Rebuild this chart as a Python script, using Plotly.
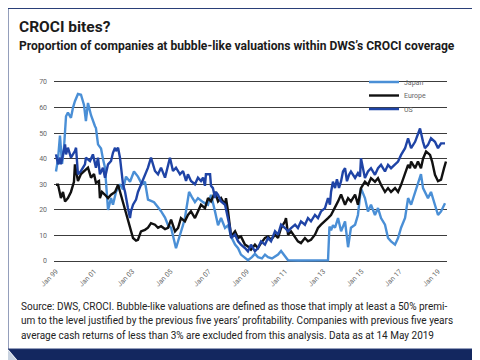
import plotly.graph_objects as go
import pandas as pd

# ---------------- data (months since Jan 1999, % of companies) ----------------
japan_month = [0.0, 1.3, 2.5, 3.8, 5.0, 6.3, 7.5, 9.4, 10.7, 11.9, 13.8, 15.7, 17.6, 18.8, 20.1, 22.0, 24.5, 25.1,
               26.4, 28.3, 29.5, 30.8, 31.4, 32.7, 34.6, 35.8, 37.7, 40.2, 42.1, 44.0, 46.5, 49.0, 51.5, 54.0, 55.9,
               57.8, 59.7, 61.6, 64.1, 66.0, 68.5, 70.4, 72.3, 74.1, 75.4, 77.3, 78.5, 79.8, 81.0, 82.3, 83.6, 85.4,
               87.3, 89.2, 92.4, 95.5, 97.4, 99.9, 101.8, 103.7, 106.2, 108.1, 110.0, 112.5, 114.4, 116.2, 118.7,
               120.6, 123.1, 125.0, 126.9, 129.4, 131.3, 133.2, 135.7, 137.6, 139.5, 141.4, 143.9, 145.8, 152.0,
               158.3, 164.6, 169.6, 170.9, 171.8, 172.8, 174.0, 175.3, 177.2, 179.1, 181.6, 183.5, 185.3, 187.9,
               189.7, 191.6, 194.1, 196.0, 197.9, 200.4, 202.3, 204.2, 206.7, 208.6, 210.5, 213.0, 214.9, 216.8,
               219.3, 221.2, 223.1, 225.6, 227.4, 229.3, 230.6, 233.7, 235.6, 238.1, 240.0, 241.9, 244.4]
japan_value = [35, 40, 49, 38, 44, 56.6, 58, 56, 60, 62.5, 65.3, 65, 61, 54.7, 61.8, 57, 52.7, 52,
               45.6, 44, 40, 36.5, 31, 20, 24.6, 22, 27, 30, 28, 33, 31, 35, 33, 30, 31,
               24, 23.5, 23, 21, 19.5, 17, 14, 13, 8, 5, 9, 11, 14, 16.8, 22, 27, 25,
               23, 24.6, 23, 22, 25.9, 19.4, 14, 16.8, 12.9, 14, 9.6, 6.4, 5, 2.5, 1.2,
               0.3, 1.5, 2.8, 1.5, 1, 2.5, 1.5, 1, 1.9, 2.5, 3.9, 2, 0.3, 0.2,
               0.2, 0.2, 0.2, 0.3, 13.5, 12, 14, 13, 16.8, 11.6, 15.5, 5.4, 13, 14.2,
               18, 28.5, 24.6, 19.4, 22, 18, 20.7, 16.8, 14.2, 9, 7.7, 6.4, 9, 13,
               16.8, 24.6, 22, 27.2, 31, 34, 28.5, 24.6, 27, 22, 18, 19.4, 22.6]

europe_month = [0.0, 1.3, 3.1, 4.4, 5.7, 7.5, 9.4, 11.3, 11.9, 13.8, 15.7, 17.6, 20.1, 22.0, 23.9, 25.1, 27.0,
                27.6, 28.9, 30.8, 32.7, 34.6, 37.1, 39.0, 40.8, 43.4, 45.2, 46.5, 48.4, 50.3, 51.5, 53.4, 55.9,
                57.8, 59.7, 62.2, 64.1, 66.0, 68.5, 70.4, 72.3, 74.8, 76.7, 78.5, 81.0, 82.9, 84.8, 87.3, 89.2,
                91.1, 93.6, 95.5, 97.4, 99.9, 101.8, 103.7, 106.2, 106.8, 108.1, 109.3, 110.0, 112.5, 114.4,
                116.2, 118.7, 120.6, 122.5, 125.0, 126.9, 128.8, 131.3, 133.2, 135.1, 137.6, 139.5, 141.4, 143.9,
                144.5, 145.8, 147.7, 150.2, 152.0, 153.9, 156.4, 158.3, 160.2, 162.7, 164.6, 166.5, 169.0, 170.9,
                172.8, 175.3, 177.2, 179.1, 181.6, 183.5, 185.3, 187.9, 189.7, 191.6, 194.1, 196.0, 197.9, 200.4,
                202.3, 204.2, 206.7, 208.6, 210.5, 213.0, 214.9, 216.8, 219.3, 221.2, 222.4, 223.1, 225.6, 227.4,
                229.3, 230.6, 232.5, 235.0, 236.3, 238.1, 240.0, 241.9, 243.8, 245.0]
europe_value = [29.8, 29.8, 24.6, 27, 23.3, 24.6, 27, 31, 37.8, 31.3, 34, 35, 36.5, 32.6, 34, 30.6, 31.3,
                24.6, 27, 25.9, 24.6, 25.9, 27, 29.8, 25.9, 19.4, 15.5, 13, 9, 8, 8.3, 11.6, 12.2,
                13, 14.8, 14.2, 13, 13.6, 12.5, 13, 16.2, 11.6, 12.9, 16.8, 15.5, 18, 19.4, 16.8, 19.4,
                22, 20.7, 24.6, 23.3, 27, 23.3, 24.6, 22, 24.6, 19.4, 13, 9.6, 11.6, 9,
                9.6, 6.4, 5.7, 4.4, 6.4, 5.1, 7, 9, 9.6, 8.3, 10.3, 9, 12.9, 15.5,
                16.8, 10.3, 11.6, 9.6, 7.7, 7, 9, 7.7, 8.3, 10.3, 12.9, 14.2, 15.5, 16.8,
                18, 20.7, 23.3, 26, 22, 24.6, 23.3, 26, 22, 28.5, 31, 29.8, 32.4, 31,
                32.4, 29.8, 27, 28.5, 27, 28.5, 27, 29.8, 34, 37.6, 36.3, 38.9, 36.3, 38.9,
                36.3, 40, 42.8, 41.5, 38.9, 33.7, 31.2, 31.8, 36.3, 38.9]

us_month = [0.0, 1.3, 2.5, 3.1, 4.4, 5.7, 6.3, 7.5, 9.4, 11.9, 12.6, 13.8, 15.7, 18.2, 18.8, 21.4, 23.2, 25.1,
            26.4, 27.6, 29.5, 30.8, 32.7, 34.6, 35.8, 37.1, 37.7, 39.0, 40.2, 40.8, 42.1, 43.4, 44.0, 45.2, 46.5,
            47.1, 48.4, 50.3, 51.5, 53.4, 55.9, 57.8, 59.7, 60.9, 62.2, 64.1, 66.0, 68.5, 70.4, 71.6, 73.5, 75.4,
            77.9, 79.8, 81.7, 82.9, 84.8, 87.3, 89.2, 91.1, 92.4, 93.6, 94.2, 96.8, 97.4, 98.6, 99.9, 100.5,
            101.8, 103.7, 106.2, 108.1, 109.3, 110.0, 112.5, 114.4, 116.2, 118.7, 120.6, 122.5, 125.0, 126.9,
            128.8, 131.3, 133.2, 135.1, 137.6, 139.5, 141.4, 143.9, 145.8, 147.7, 150.2, 152.0, 153.9, 156.4,
            158.3, 160.2, 162.7, 164.6, 166.5, 169.0, 170.9, 172.1, 172.8, 174.0, 175.3, 176.5, 177.8, 179.1,
            180.3, 181.6, 182.8, 184.1, 185.3, 187.9, 189.7, 191.0, 191.6, 194.1, 196.0, 197.9, 200.4, 202.3,
            204.2, 206.7, 208.6, 210.5, 213.0, 214.9, 216.8, 219.3, 221.2, 223.1, 225.6, 227.4, 228.7, 230.6,
            231.8, 233.7, 235.6, 238.1, 240.0, 241.9, 244.4]
us_value = [41.7, 37.8, 40.4, 37.8, 41.7, 45.6, 41.7, 44.3, 40.4, 43, 44.3, 33.9, 35.2, 37.8, 40.4, 39.1, 41.7, 36.5,
            40.4, 33.9, 36.5, 32.6, 37.8, 39.1, 42.3, 44.3, 43, 44.3, 40.4, 36.5, 30, 27, 24.6, 20.7, 16.8,
            19.4, 22, 24, 27, 30, 33.9, 36.5, 40.4, 37.8, 35.2, 33.9, 36.5, 32.6, 37.8, 40.4, 35.2, 36.5,
            33.9, 35.2, 31.3, 33.9, 31.3, 30, 32.6, 31.3, 32.6, 29.4, 33.9, 33.9, 29.4, 28.5, 24.6, 27,
            25.9, 23.3, 22, 16.8, 13, 9, 10.3, 7.7, 6.4, 5.1, 3.8, 6.4, 3.8, 5.1,
            7.7, 6.4, 9, 7.7, 11.6, 10.3, 14.2, 12.9, 11.6, 12.9, 14.2, 12.9, 15.5, 14.2,
            16.8, 15.5, 18, 16.8, 19.4, 20.7, 24.6, 22, 27, 31, 28.5, 32, 28.6, 31.2,
            35, 36.3, 31.2, 33.7, 35, 32.5, 34.4, 33, 40.2, 32.5, 35, 36.3, 33.7, 36.3,
            37.6, 35, 37.6, 36.3, 37.6, 38.9, 41.5, 44.1, 48, 44.1, 46.6, 49.2, 51.8, 46.6,
            44.1, 45.4, 48, 46.6, 44.1, 46, 46]

y_ticks = [0, 10, 20, 30, 40, 50, 60, 70]
x_tick_dates = ["1999-01-01", "2001-01-01", "2003-01-01", "2005-01-01", "2007-01-01", "2009-01-01",
                "2011-01-01", "2013-01-01", "2015-01-01", "2017-01-01", "2019-01-01"]
x_tick_labels = ["Jan 99", "Jan 01", "Jan 03", "Jan 05", "Jan 07", "Jan 09",
                 "Jan 11", "Jan 13", "Jan 15", "Jan 17", "Jan 19"]

title_text = "CROCI bites?"
subtitle_text = "Proportion of companies at bubble-like valuations within DWS\u2019s CROCI coverage"
source_lines = [
    "Source: DWS, CROCI. Bubble-like valuations are defined as those that imply at least a 50% premi-",
    "um to the level justified by the previous five years\u2019 profitability. Companies with previous five years",
    "average cash returns of less than 3% are excluded from this analysis. Data as at 14 May 2019",
]

# ---------------- figure ----------------
W, H = 480, 360
ML, MR, MT, MB = 46, 41, 71, 103
PL, PR, PT, PB = ML, W - MR, MT, H - MB


def px(x):
    return (x - PL) / (PR - PL)


def py(y):
    return (PB - y) / (PB - PT)


base = pd.Timestamp("1999-01-01")


def to_dates(months):
    return [base + pd.to_timedelta(m * 30.4375, unit="D") for m in months]


FONT = "Roboto"
fig = go.Figure()
series = [
    ("Japan", japan_month, japan_value, "#4a8fd6", "legend", 74),
    ("Europe", europe_month, europe_value, "#111111", "legend2", 87.5),
    ("US", us_month, us_value, "#1f44a6", "legend3", 101),
]
legend_layouts = {}
for name, m, v, c, lg, ly in series:
    fig.add_trace(go.Scatter(x=to_dates(m), y=v, name=name, mode="lines", legend=lg,
                             line=dict(color=c, width=2.4)))
    legend_layouts[lg] = dict(x=px(356), y=py(ly), xanchor="left", yanchor="middle",
                              bgcolor="rgba(0,0,0,0)", borderwidth=0,
                              font=dict(family=FONT, size=7, color="#666666"),
                              itemwidth=30)

shapes = [
    dict(type="path", xref="paper", yref="paper", layer="below",
         path=f"M {px(469)} {py(2)} L {px(480)} {py(8)} L {px(480)} {py(360)} L {px(16)} {py(360)} "
              f"L {px(0)} {py(341)} L {px(469)} {py(341)} Z",
         fillcolor="#13275f", line=dict(width=0)),
    dict(type="path", xref="paper", yref="paper", layer="below",
         path=f"M {px(0)} {py(342)} L {px(15)} {py(360)} L {px(0)} {py(360)} Z",
         fillcolor="#c9d3e0", line=dict(width=0)),
    dict(type="rect", xref="paper", yref="paper", layer="below",
         x0=px(0), x1=px(469), y0=py(0.5), y1=py(341),
         fillcolor="white", line=dict(color="#2a3f78", width=1)),
]

annotations = [
    dict(text=f"<b>{title_text}</b>", x=px(10), y=py(18.5), xref="paper", yref="paper",
         xanchor="left", yanchor="middle", showarrow=False, borderpad=0,
         font=dict(family=FONT, size=15.5, color="#1b1b1b")),
    dict(text=f"<b>{subtitle_text}</b>", x=px(10), y=py(38.5), xref="paper", yref="paper",
         xanchor="left", yanchor="middle", showarrow=False, borderpad=0,
         font=dict(family=FONT, size=12.1, color="#1b1b1b")),
]
for i, line in enumerate(source_lines):
    annotations.append(dict(text=line, x=px(11), y=py(290.5 + i * 14.5), xref="paper", yref="paper",
                            xanchor="left", yanchor="top", showarrow=False,
                            font=dict(family=FONT, size=10, color="#222222")))

fig.update_layout(
    width=W, height=H,
    margin=dict(l=ML, r=MR, t=MT, b=MB, pad=0),
    paper_bgcolor="#ffffff",
    plot_bgcolor="rgba(0,0,0,0)",
    showlegend=True,
    shapes=shapes,
    annotations=annotations,
    xaxis=dict(type="date", range=["1998-11-24", "2019-06-22"],
               tickvals=x_tick_dates, ticktext=x_tick_labels, tickangle=-45,
               showgrid=False, zeroline=False, showline=False, ticks="",
               tickfont=dict(family=FONT, size=7, color="#666666")),
    yaxis=dict(range=[-1.56, 71.17], tickvals=y_ticks, showgrid=True,
               gridcolor="#3c3c3c", gridwidth=1.4, zeroline=False, showline=False, ticks="",
               ticklabelstandoff=6,
               tickfont=dict(family=FONT, size=7, color="#666666")),
    **legend_layouts,
)

fig.write_html("out.html")
